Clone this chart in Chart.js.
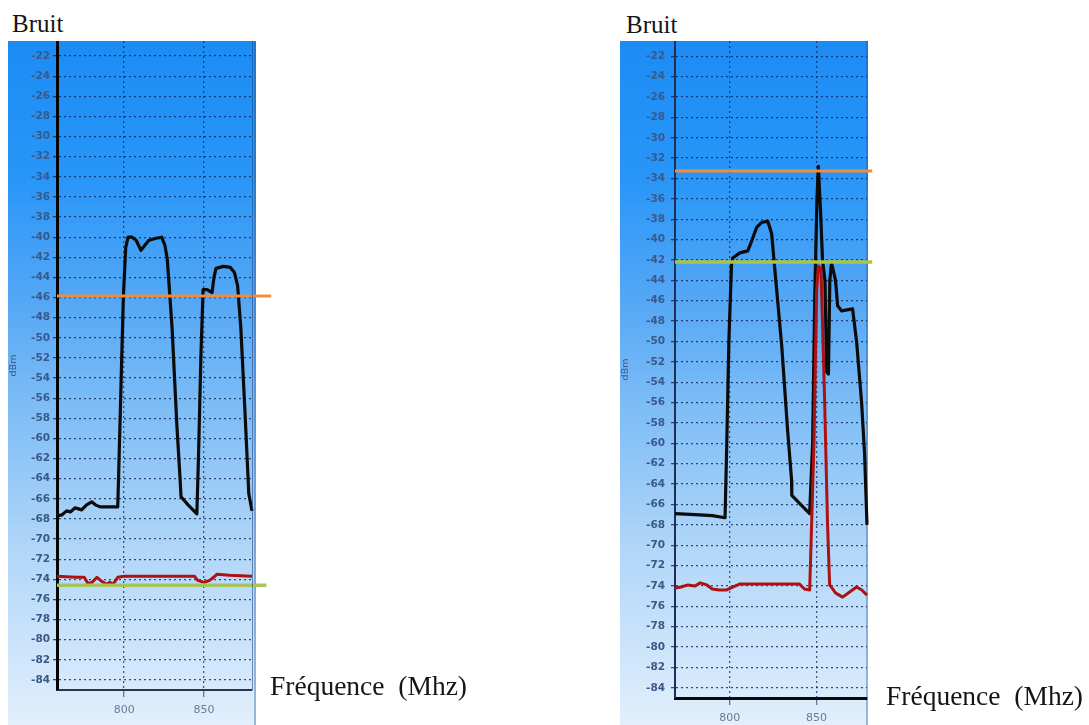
<!DOCTYPE html>
<html>
<head>
<meta charset="utf-8">
<script src="https://cdn.jsdelivr.net/npm/chart.js@4"></script>
<style>
    body { margin: 0; background: #fff; width: 1089px; height: 725px; position: relative; overflow: hidden; }
    .panel { position: absolute; }
    .lbl { position: absolute; font-family: "Liberation Serif", "Times New Roman", serif; color: #151515; white-space: pre; line-height: 1; }
</style>
</head>
<body>
<div class="lbl" style="left:12px;top:11px;font-size:25px">Bruit</div>
<div class="lbl" style="left:626px;top:12px;font-size:25px">Bruit</div>
<div class="panel" style="left:8px;top:41px;width:282px;height:684px"><canvas id="chart-left"></canvas></div>
<div class="panel" style="left:620px;top:41px;width:280px;height:684px"><canvas id="chart-right"></canvas></div>
<div class="lbl" style="left:270px;top:672px;font-size:27.5px">Fréquence  (Mhz)</div>
<div class="lbl" style="left:886px;top:682px;font-size:27.5px">Fréquence  (Mhz)</div>
<script>
// tick labels
const yTickValues = [-22, -24, -26, -28, -30, -32, -34, -36, -38, -40, -42, -44, -46, -48, -50, -52,
    -54, -56, -58, -60, -62, -64, -66, -68, -70, -72, -74, -76, -78, -80, -82, -84];
const xTickValues = [800, 850];

// left panel: [MHz, dBm]
const leftNoise = [
    [758, -67.7], [761, -67.6], [764, -67.2], [766.5, -67.3], [769.2, -66.9], [771.5, -67.0],
    [773.4, -67.1], [776.5, -66.6], [779.7, -66.3], [782, -66.6], [785, -66.8], [796, -66.8],
    [796.5, -64], [798, -55], [799.5, -46], [801, -41], [802.5, -40.0], [805, -40.0],
    [807.5, -40.3], [810.5, -41.3], [813, -40.8], [815.5, -40.3], [820, -40.1], [823.5, -40.0],
    [825.5, -40.8], [827, -42.2], [830, -49], [833, -58.7], [835, -64], [835.6, -65.8],
    [840, -66.6], [845.5, -67.5], [846.5, -62], [848, -52], [849.4, -45.2], [852, -45.2],
    [855, -45.5], [856.2, -44], [857.5, -43.1], [862, -42.9], [866.5, -43.0], [869, -43.5],
    [871, -44.8], [873, -49], [875.5, -57], [878, -65.5], [880, -67.2]
];
const leftSignal = [
    [758, -73.7], [770, -73.8], [775, -73.8], [777.4, -74.4], [780, -74.3], [783, -73.8],
    [786, -74.2], [789, -74.5], [791, -74.3], [793, -74.5], [796, -73.8], [800, -73.7],
    [844, -73.7], [846, -74.1], [850, -74.3], [853.5, -74.1], [856, -73.8], [858, -73.5],
    [866, -73.6], [880, -73.7]
];
const leftUpper = [[758, -45.85], [892, -45.85]];
const leftLower = [[758, -74.6], [889, -74.6]];

// right panel: [MHz, dBm]
const rightNoise = [
    [768.5, -66.9], [780, -67.0], [790, -67.1], [797.3, -67.3], [798.3, -60], [799.5, -50],
    [801, -42.5], [801.7, -41.8], [805.8, -41.3], [810.4, -41.1], [812.7, -40.1], [815.5, -38.8],
    [818.4, -38.3], [821.9, -38.2], [824.1, -39.4], [830, -50.6], [833.3, -58.7], [835.6, -63.6],
    [835.7, -65.1], [846, -66.9], [847.7, -60], [849, -45], [850.2, -36], [851, -32.8],
    [852.2, -37], [853.4, -42], [854.8, -44], [855.8, -53], [856.8, -53.2], [857.6, -44],
    [858.6, -42.3], [860.9, -44], [862.1, -46.5], [864.4, -47], [870.7, -46.8], [873, -50],
    [875.9, -56], [877.6, -61], [879, -68]
];
const rightSignal = [
    [768.5, -74.2], [772, -74.1], [776, -73.9], [780, -74.0], [783, -73.7], [786.8, -73.9],
    [790, -74.3], [794, -74.4], [798, -74.4], [802, -74.1], [806, -73.8], [810, -73.8],
    [840, -73.8], [843, -74.3], [846, -74.4], [848.5, -60], [850, -45], [851, -42.6],
    [852.5, -42.8], [854.5, -55], [856.3, -68], [857.5, -73.9], [861, -74.7], [865, -75.1],
    [869, -74.6], [873, -74.1], [876, -74.4], [879, -74.9]
];
const rightUpper = [[768.5, -33.26], [882, -33.26]];
const rightLower = [[768.5, -42.2], [882, -42.2]];

// gradient box behind each chart
const panelBackground = {
    id: "panelBackground",
    beforeDraw(chart, args, opts) {
        const ctx = chart.ctx;
        const h = chart.height;
        const g = ctx.createLinearGradient(0, 0, 0, h);
        g.addColorStop(0, "rgb(28,140,245)");
        g.addColorStop(0.2, "rgb(40,150,248)");
        g.addColorStop(0.38, "rgb(85,167,245)");
        g.addColorStop(0.52, "rgb(122,187,246)");
        g.addColorStop(0.74, "rgb(176,214,248)");
        g.addColorStop(0.95, "rgb(216,234,252)");
        g.addColorStop(1, "rgb(226,239,252)");
        ctx.save();
        ctx.fillStyle = g;
        ctx.fillRect(0, 0, opts.width, h);
        ctx.fillStyle = "rgba(20,80,170,0.35)";
        ctx.fillRect(opts.width - 2, 0, 2, h);
        ctx.restore();
    },
    afterDatasetsDraw(chart, args, opts) {
        if (!opts.rightBorder) return;
        const ctx = chart.ctx;
        const a = chart.chartArea;
        ctx.save();
        ctx.strokeStyle = opts.rightBorder;
        ctx.lineWidth = 1;
        ctx.beginPath();
        ctx.moveTo(a.right + 0.5, a.top);
        ctx.lineTo(a.right + 0.5, a.bottom);
        ctx.stroke();
        ctx.restore();
    }
};

function toPoints(pairs) {
    return pairs.map(p => ({ x: p[0], y: p[1] }));
}

function lineSet(label, pairs, color, width, clip) {
    return {
        label: label,
        data: toPoints(pairs),
        borderColor: color,
        borderWidth: width,
        pointRadius: 0,
        tension: 0,
        borderJoinStyle: "round",
        borderCapStyle: "butt",
        clip: clip
    };
}

function makeChart(id, setup) {
    const canvas = document.getElementById(id);
    if (!canvas) {
        return null;
    }
    return new Chart(canvas, {
        type: "line",
        data: {
            datasets: [
                lineSet("Seuil haut", setup.upper, "rgb(240,140,62)", 3, false),
                lineSet("Seuil bas", setup.lower, setup.lowerColor, 3.5, false),
                lineSet("Signal", setup.signal, "rgb(172,18,18)", 3, 4),
                lineSet("Bruit", setup.noise, "#0b0b0b", 3.2, 4)
            ]
        },
        options: {
            responsive: true,
            maintainAspectRatio: false,
            animation: false,
            devicePixelRatio: 1,
            layout: {
                padding: { top: 0, left: 0, right: setup.padRight, bottom: 0 }
            },
            scales: {
                x: {
                    type: "linear",
                    min: setup.xMin,
                    max: setup.xMax,
                    afterBuildTicks: s => { s.ticks = xTickValues.map(v => ({ value: v })); },
                    afterFit: s => {
                        s.height = setup.xAxisHeight;
                        s.paddingLeft = 0;
                        s.paddingRight = 0;
                    },
                    ticks: {
                        padding: 7,
                        maxRotation: 0,
                        color: "#6b7b95",
                        font: { family: "DejaVu Sans", size: 11 }
                    },
                    grid: {
                        color: "rgba(20,40,90,0.75)",
                        lineWidth: 1.3,
                        tickLength: 7,
                        tickColor: "rgba(20,40,90,0.6)"
                    },
                    border: {
                        display: true,
                        color: setup.bottomColor,
                        width: setup.bottomWidth,
                        dash: [2, 3]
                    }
                },
                y: {
                    type: "linear",
                    min: -85,
                    max: -20.5,
                    afterBuildTicks: s => { s.ticks = yTickValues.map(v => ({ value: v })); },
                    afterFit: s => {
                        s.width = setup.yAxisWidth;
                        s.paddingTop = 0;
                        s.paddingBottom = 0;
                    },
                    ticks: {
                        autoSkip: false,
                        padding: setup.yPad,
                        color: "#3a5888",
                        font: { family: "DejaVu Sans", size: 10.5, weight: "bold" }
                    },
                    grid: {
                        color: "rgba(15,35,85,0.8)",
                        lineWidth: 1.3,
                        tickLength: 4,
                        tickColor: "rgba(15,35,85,0.8)"
                    },
                    border: {
                        display: true,
                        color: setup.leftColor,
                        width: setup.leftWidth,
                        dash: [2, 3]
                    },
                    title: {
                        display: true,
                        text: "dBm",
                        color: "#3c5a88",
                        font: { family: "DejaVu Sans", size: 9.5 },
                        padding: { top: 0, bottom: 0 }
                    }
                }
            },
            plugins: {
                legend: { display: false },
                tooltip: { enabled: false },
                panelBackground: { width: 248, rightBorder: setup.rightBorder }
            }
        },
        plugins: [panelBackground]
    });
}

makeChart("chart-left", {
    noise: leftNoise, signal: leftSignal, upper: leftUpper, lower: leftLower,
    lowerColor: "rgb(166,196,92)",
    xMin: 758, xMax: 880, padRight: 38, yAxisWidth: 49, xAxisHeight: 35, yPad: 3,
    leftColor: "#050505", leftWidth: 3, bottomColor: "#2a3550", bottomWidth: 2,
    rightBorder: "rgba(40,70,120,0.6)"
});

makeChart("chart-right", {
    noise: rightNoise, signal: rightSignal, upper: rightUpper, lower: rightLower,
    lowerColor: "rgb(170,196,70)",
    xMin: 768.5, xMax: 879, padRight: 33, yAxisWidth: 55, xAxisHeight: 27, yPad: 6,
    leftColor: "#1d2f55", leftWidth: 2, bottomColor: "#0a0a0a", bottomWidth: 3,
    rightBorder: null
});
</script>
</body>
</html>
